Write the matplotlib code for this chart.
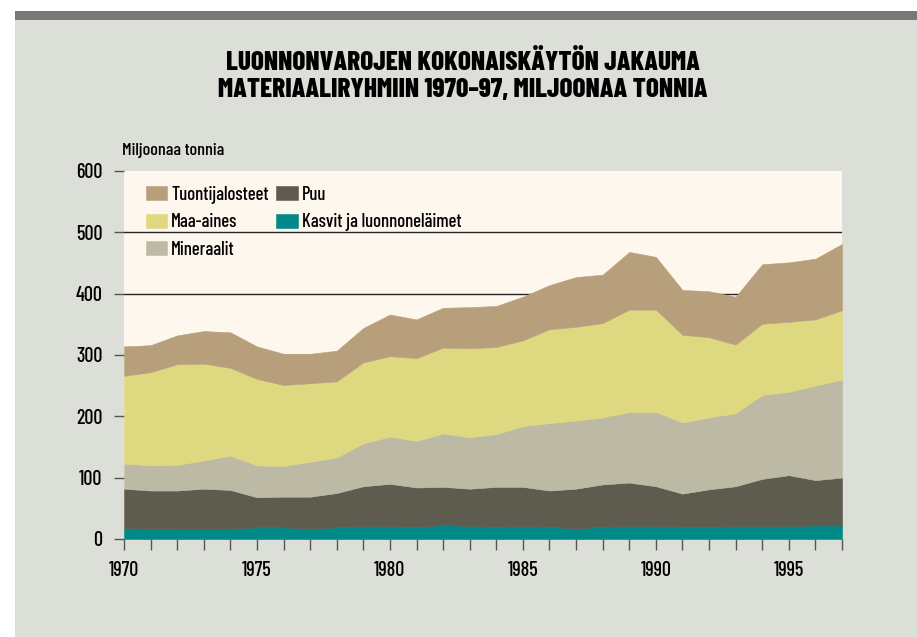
import numpy as np
import matplotlib
matplotlib.use("Agg")
import matplotlib.pyplot as plt
from matplotlib import font_manager as fm
from matplotlib.patches import Rectangle

years = list(range(1970, 1998))

# million tonnes per group
kasvit = [18, 16, 17, 17, 17, 19, 19, 17, 19, 21, 21, 19, 23, 21,
          20, 21, 20, 17, 20, 21, 21, 20, 20, 21, 21, 21, 22, 22]
puu = [64, 63, 62, 65, 63, 49, 50, 52, 56, 65, 69, 65, 62, 61,
       65, 64, 59, 65, 69, 71, 65, 54, 61, 65, 77, 83, 74, 78]
mineraalit = [41, 41, 42, 46, 56, 52, 50, 57, 58, 70, 77, 76, 87, 84,
              86, 99, 110, 111, 109, 115, 121, 116, 117, 119, 137, 136, 154, 160]
maa_aines = [143, 152, 164, 158, 143, 141, 132, 128, 124, 132, 131, 135, 140, 145,
             142, 140, 153, 153, 154, 167, 167, 143, 131, 112, 116, 114, 108, 113]
tuonti = [48, 44, 47, 53, 58, 53, 51, 48, 50, 56, 68, 63, 65, 67,
          67, 71, 72, 81, 79, 94, 86, 73, 75, 78, 97, 97, 99, 108]

series_labels = ["Kasvit ja luonnoneläimet", "Puu", "Mineraalit", "Maa-aines", "Tuontijalosteet"]
series_colors = ["#008987", "#5e5b4f", "#bcbaa4", "#ded881", "#b89f7c"]

yticks = [0, 100, 200, 300, 400, 500, 600]
xticks_major = [1970, 1975, 1980, 1985, 1990, 1995]

# condensed face closest to the original
names = {f.name for f in fm.fontManager.ttflist}
font = "DejaVu Sans"
for cand in ["Barlow Condensed", "Roboto Condensed", "Liberation Sans Narrow"]:
    if cand in names:
        font = cand
        break
plt.rcParams["font.family"] = [font, "DejaVu Sans"]

fig = plt.figure(figsize=(9.17, 6.37), dpi=100)
fig.patch.set_facecolor("white")
fig.add_artist(Rectangle((15 / 917, 0), 1 - 15 / 917, 1 - 11 / 637,
                         transform=fig.transFigure, facecolor="#dcdfd7", edgecolor="none", zorder=0))
fig.add_artist(Rectangle((15 / 917, 1 - 20 / 637), 1 - 15 / 917, 9 / 637,
                         transform=fig.transFigure, facecolor="#787878", edgecolor="none", zorder=0))

fig.text(0.505, 1 - 70 / 637, "LUONNONVAROJEN KOKONAISKÄYTÖN JAKAUMA",
         ha="center", va="baseline", fontsize=19.5, fontweight=800)
fig.text(0.505, 1 - 97 / 637, "MATERIAALIRYHMIIN 1970–97, MILJOONAA TONNIA",
         ha="center", va="baseline", fontsize=19.5, fontweight=800)
fig.text(122 / 917, 1 - 155 / 637, "Miljoonaa tonnia", ha="left", va="baseline",
         fontsize=13, fontweight="medium")

ax = fig.add_axes([124 / 917, 1 - 539 / 637, (842 - 124) / 917, (539 - 171) / 637])
ax.set_facecolor("#fef7ee")
for s in ax.spines.values():
    s.set_visible(False)

for y in yticks[1:-1]:
    ax.axhline(y, color="#222222", lw=1.0, zorder=1)

polys = ax.stackplot(years, kasvit, puu, mineraalit, maa_aines, tuonti,
                     colors=series_colors, labels=series_labels, zorder=2)
for p in polys:
    p.set_edgecolor(p.get_facecolor())
    p.set_linewidth(0.4)

ax.set_xlim(1970, 1997)
ax.set_ylim(0, 600)
ax.set_yticks(yticks)
ax.set_xticks(years)
ax.set_xticklabels([str(y) if y in xticks_major else "" for y in years])
ax.tick_params(axis="y", length=7.5, width=1, color="#555555", pad=8, labelsize=14.5)
ax.tick_params(axis="x", length=7.7, width=1, color="#555555", pad=8, labelsize=14.5)
for lab in ax.get_xticklabels() + ax.get_yticklabels():
    lab.set_fontweight("medium")

order = [4, 3, 2, 1, 0]
leg = ax.legend([polys[i] for i in order], [series_labels[i] for i in order],
                ncol=2, loc="upper left", bbox_to_anchor=(0.02, 0.98), frameon=False,
                handlelength=1.15, handleheight=0.75, handletextpad=0.2,
                labelspacing=0.5, columnspacing=0.4, borderaxespad=0,
                prop={"weight": "medium", "size": 13.5})

fig.savefig("out.png", dpi=100)
